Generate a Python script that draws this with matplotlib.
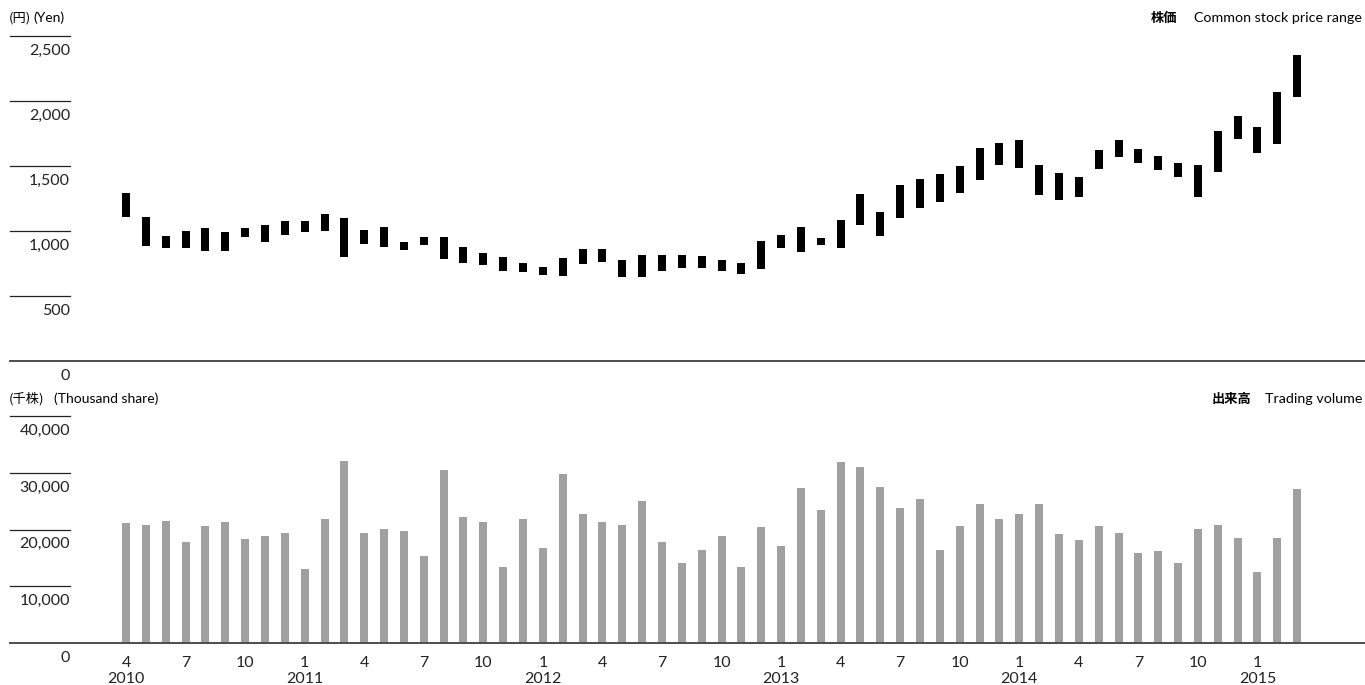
import matplotlib
matplotlib.use("Agg")
import matplotlib.pyplot as plt

plt.rcParams["font.family"] = ["Lato", "Noto Sans CJK JP", "DejaVu Sans"]

# monthly data, April 2010 - March 2015
price_high = [1295, 1108, 962, 1002, 1023, 992, 1023, 1046, 1079, 1079,
              1133, 1100, 1010, 1031, 918, 954, 954, 877, 831, 800,
              754, 723, 792, 862, 862, 777, 815, 815, 815, 808,
              777, 754, 923, 969, 1031, 946, 1085, 1285, 1146, 1354,
              1400, 1438, 1500, 1638, 1677, 1700, 1508, 1446, 1415, 1623,
              1700, 1631, 1577, 1523, 1508, 1769, 1885, 1800, 2069, 2354]
price_low = [1110, 887, 872, 872, 849, 849, 956, 918, 972, 995,
             1002, 802, 902, 879, 856, 895, 787, 756, 741, 695,
             687, 664, 656, 749, 764, 649, 649, 695, 718, 718,
             695, 672, 710, 872, 841, 895, 872, 1049, 964, 1103,
             1179, 1226, 1295, 1395, 1510, 1487, 1279, 1241, 1264, 1479,
             1572, 1526, 1472, 1418, 1264, 1456, 1710, 1603, 1672, 2033]
volume = [21100, 20800, 21500, 17900, 20600, 21300, 18300, 18800, 19400, 13000,
          21800, 32200, 19400, 20200, 19700, 15300, 30600, 22200, 21300, 13500,
          21800, 16700, 29800, 22700, 21300, 20800, 25000, 17900, 14200, 16500,
          18800, 13400, 20400, 17100, 27300, 23400, 31900, 31000, 27600, 23900,
          25500, 16500, 20600, 24500, 21800, 22700, 24500, 19200, 18100, 20600,
          19500, 15800, 16200, 14200, 20100, 20900, 18500, 12600, 18600, 27100]

tick_labels = ["4\n2010", "7", "10", "1\n2011", "4", "7", "10", "1\n2012",
               "4", "7", "10", "1\n2013", "4", "7", "10", "1\n2014",
               "4", "7", "10", "1\n2015"]

price_ticks = [0, 500, 1000, 1500, 2000, 2500]
volume_ticks = [0, 10000, 20000, 30000, 40000]

W, H = 1365, 685
STEP = 19.85
X0 = 126
x = list(range(len(volume)))
xlim = (-(X0 - 10) / STEP, (W - X0) / STEP)
bar_w = 8 / STEP
tick_end = (70 - 10) / (W - 10)

fig = plt.figure(figsize=(W / 100, H / 100), dpi=100)
ax1 = fig.add_axes([10 / W, (H - 361) / H, (W - 10) / W, (361 - 23) / H])
ax2 = fig.add_axes([10 / W, (H - 643) / H, (W - 10) / W, (643 - 405) / H])


def style_axis(ax, ticks, ymax):
    ax.set_xlim(*xlim)
    ax.set_ylim(0, ymax)
    for s in ["top", "left", "right"]:
        ax.spines[s].set_visible(False)
    ax.spines["bottom"].set_color("#4d4d4d")
    ax.spines["bottom"].set_linewidth(1.4)
    ax.set_yticks([])
    trans = ax.get_yaxis_transform()
    for v in ticks:
        if v > 0:
            ax.plot([0, tick_end], [v, v], color="#222222", lw=0.9,
                    transform=trans, clip_on=False)
        ax.annotate(f"{v:,}", xy=(tick_end, v), xycoords=trans,
                    xytext=(0, -10.5), textcoords="offset points",
                    ha="right", va="center", fontsize=11.5, color="#222222")


style_axis(ax1, price_ticks, 2600)
heights = [h - l for h, l in zip(price_high, price_low)]
ax1.bar(x, heights, bottom=price_low, width=bar_w, color="black")
ax1.set_xticks([])

style_axis(ax2, volume_ticks, 42000)
ax2.bar(x, volume, width=bar_w, color="#a0a0a0")
ax2.set_xticks(x[::3])
ax2.set_xticklabels(tick_labels, fontsize=11.5, linespacing=1.12, color="#222222")
ax2.tick_params(axis="x", length=0, pad=9.5)

jp = ["Noto Sans CJK JP", "DejaVu Sans"]
fig.text(9 / W, 1 - 18 / H, "(円)", fontsize=9.5, family=jp, ha="left", va="center")
fig.text(33 / W, 1 - 18 / H, "(Yen)", fontsize=10, ha="left", va="center")
fig.text(1177 / W, 1 - 18 / H, "株価", fontsize=9.5, family=jp,
         weight="bold", ha="right", va="center")
fig.text(1362 / W, 1 - 18 / H, "Common stock price range", fontsize=10.3,
         ha="right", va="center")
fig.text(9 / W, 1 - 399 / H, "(千株)", fontsize=9.5, family=jp, ha="left", va="center")
fig.text(54 / W, 1 - 399 / H, "(Thousand share)", fontsize=10, ha="left", va="center")
fig.text(1251 / W, 1 - 399 / H, "出来高", fontsize=9.5, family=jp,
         weight="bold", ha="right", va="center")
fig.text(1362 / W, 1 - 399 / H, "Trading volume", fontsize=10.3,
         ha="right", va="center")

fig.savefig("out.png", dpi=100)
